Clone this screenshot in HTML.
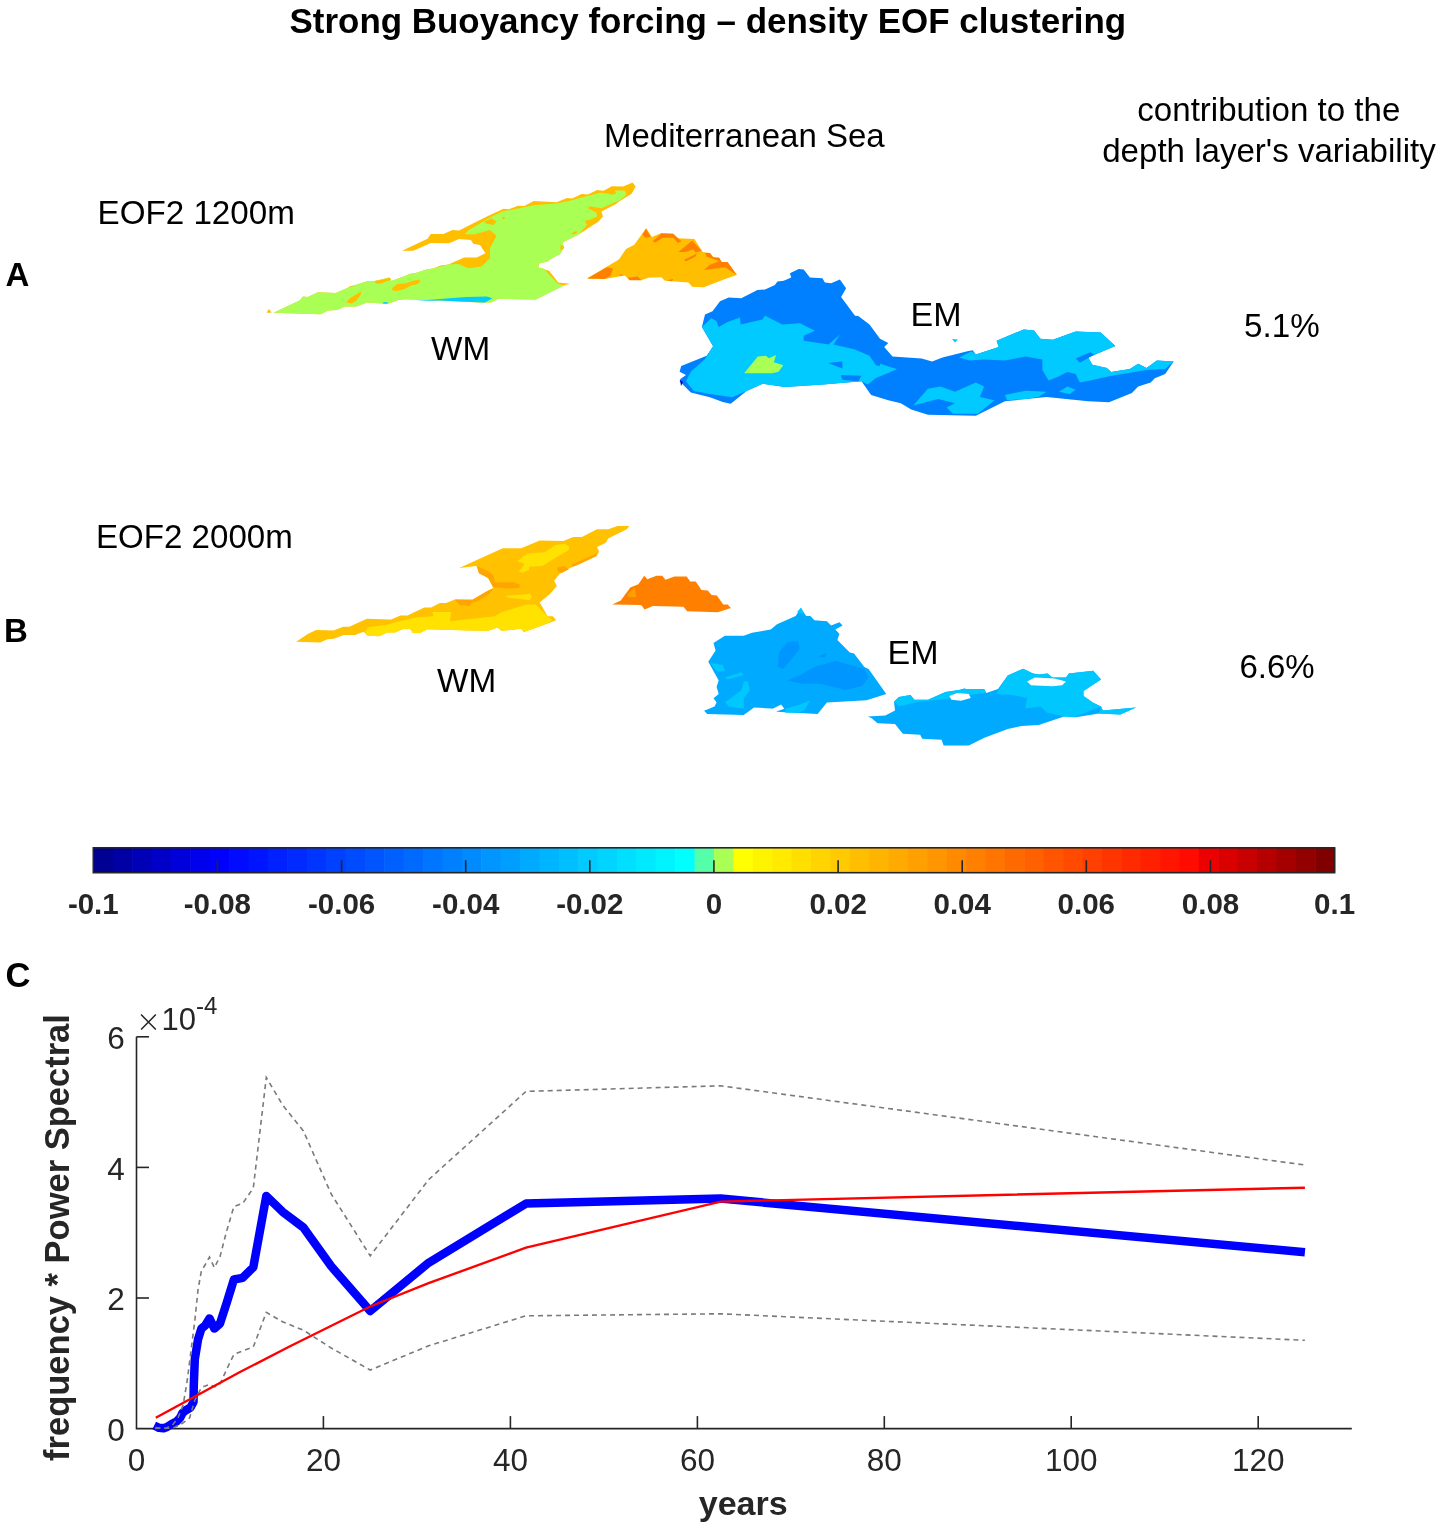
<!DOCTYPE html>
<html><head><meta charset="utf-8"><style>
html,body{margin:0;padding:0;background:#fff;}
svg{display:block;will-change:transform;}
text{font-family:"Liberation Sans",sans-serif;}
.cbl{font-size:29.5px;font-weight:bold;fill:#262626;}
</style></head><body>
<svg width="1441" height="1528" viewBox="0 0 1441 1528">
<rect width="1441" height="1528" fill="#fff"/>
<g shape-rendering="geometricPrecision">
<polygon points="273.7,312.8 300.0,300.2 302.9,296.6 307.7,297.0 318.0,292.2 335.9,293.1 349.5,287.1 355.4,285.1 368.0,281.0 374.8,281.0 389.4,277.5 391.3,281.0 405.0,275.9 410.0,273.7 415.0,273.3 426.6,269.5 434.1,268.3 440.4,265.4 448.3,264.5 464.1,257.5 476.6,257.5 485.4,253.3 480.0,245.0 473.3,243.7 470.8,240.0 459.1,239.1 449.1,243.3 430.8,242.9 413.3,250.8 402.1,250.8 427.5,238.7 430.8,234.1 443.3,234.1 452.5,230.0 459.1,230.4 478.3,220.8 490.0,215.1 503.5,208.8 508.7,209.3 518.1,205.7 524.3,206.0 533.7,201.0 556.6,202.3 567.0,197.9 572.2,198.4 581.6,194.0 587.8,194.6 597.2,190.1 603.5,190.8 611.8,186.2 623.2,186.5 632.6,182.5 635.7,186.5 631.6,193.7 626.4,196.9 619.1,201.5 616.0,204.1 601.4,211.4 602.9,216.6 598.3,221.8 589.9,227.0 583.7,231.2 579.1,234.2 562.4,242.5 564.1,247.5 560.0,254.1 550.8,259.1 547.5,261.6 539.1,263.3 538.3,267.5 549.1,270.8 558.3,282.5 569.9,283.7 563.3,285.8 535.8,299.5 498.3,298.7 490.8,302.4 480.0,302.4 460.0,301.5 440.0,300.5 405.0,299.2 399.1,299.7 390.3,303.1 383.5,303.6 367.0,302.6 356.3,306.5 344.7,306.5 336.9,309.9 328.1,310.4 320.4,314.3" fill="rgb(255,191,0)"/>
<polygon points="273.7,312.8 300.0,300.2 302.9,296.6 307.7,297.0 318.0,292.2 335.9,293.1 349.5,287.1 355.4,285.1 368.0,281.0 374.8,281.0 389.4,277.5 391.3,281.0 405.0,275.9 410.0,273.7 415.0,273.3 426.6,269.5 434.1,268.3 448.3,264.5 458.3,264.1 468.3,268.3 481.6,266.6 490.0,258.3 490.0,248.3 496.6,235.8 489.9,230.0 475.0,234.2 465.0,234.2 468.3,230.4 482.4,222.1 493.1,216.1 502.5,211.4 510.8,209.9 533.7,205.2 556.6,203.6 569.1,201.0 583.7,196.9 600.3,192.7 608.7,193.7 611.8,194.8 616.0,193.7 614.9,190.6 624.3,190.6 626.4,193.2 624.3,196.9 619.1,200.5 601.4,208.3 589.9,206.2 587.8,208.3 596.2,212.5 597.2,216.6 589.9,219.8 584.7,220.8 586.8,225.0 579.1,234.2 562.4,242.5 564.1,247.5 560.0,254.1 550.8,259.1 547.5,261.6 543.3,262.5 538.3,264.1 538.3,267.5 543.3,268.3 550.8,276.6 557.4,283.3 563.3,285.8 535.8,299.5 498.3,298.7 490.8,302.4 480.0,302.4 460.0,301.5 440.0,300.5 405.0,299.2 399.1,299.7 390.3,303.1 383.5,303.6 367.0,302.6 356.3,306.5 344.7,306.5 336.9,309.9 328.1,310.4 320.4,314.3" fill="rgb(170,255,85)"/>
<polygon points="484.1,221.7 491.6,218.3 496.6,221.7 493.3,225.0 486.6,223.7" fill="rgb(255,191,0)"/>
<polygon points="502.0,217.5 504.0,216.5 505.0,218.5 503.0,219.2" fill="rgb(255,191,0)"/>
<polygon points="571.6,233.3 576.6,230.8 577.0,233.3 572.4,234.6" fill="rgb(255,191,0)"/>
<polygon points="560.5,244.6 564.5,247.5 560.5,250.5" fill="rgb(255,191,0)"/>
<polygon points="346.1,302.6 350.5,297.7 361.2,291.4 360.7,294.8 356.3,300.7 351.5,303.6" fill="rgb(255,191,0)"/>
<polygon points="373.8,281.2 384.5,279.3 389.4,277.5 391.3,279.8 381.6,283.2 376.7,283.7" fill="rgb(255,191,0)"/>
<polygon points="348.6,287.1 354.4,285.1 352.4,286.6 349.5,287.5" fill="rgb(255,191,0)"/>
<polygon points="392.3,288.0 397.1,284.1 405.0,283.5 414.0,280.4 420.0,279.5 419.0,282.5 410.0,286.0 405.0,289.0 397.1,291.0 392.3,290.5" fill="rgb(255,191,0)"/>
<polygon points="410.8,282.5 419.2,280.4 420.0,282.5 415.0,285.0" fill="rgb(255,191,0)"/>
<polygon points="266.5,312.8 268.9,308.9 271.8,312.8" fill="rgb(255,191,0)"/>
<polygon points="382.6,302.6 386.4,302.1 389.4,303.6 383.5,303.8" fill="rgb(0,202,255)"/>
<polygon points="415.0,301.0 440.0,299.0 466.0,297.0 486.7,296.6 492.5,298.3 485.0,302.4 460.0,301.5 440.0,300.5" fill="rgb(0,202,255)"/>
<polygon points="587.1,278.4 607.1,266.6 618.9,259.5 626.0,248.9 634.3,244.8 646.1,228.3 652.0,237.1 661.4,233.0 673.2,233.6 677.9,238.3 694.4,238.9 702.7,251.9 709.8,253.0 713.3,257.2 719.2,257.8 721.6,261.9 727.5,261.9 736.9,274.9 725.1,279.0 703.9,287.2 692.1,286.7 688.5,282.5 664.9,280.8 661.4,277.2 648.4,277.8 641.3,280.2 627.2,277.8 624.8,275.5 604.8,279.0" fill="rgb(255,191,0)"/>
<polygon points="587.1,278.4 607.1,267.2 613.0,268.4 610.7,275.5 604.8,279.0" fill="rgb(255,128,0)"/>
<polygon points="642.5,234.2 646.1,228.8 650.8,237.1 644.9,237.7" fill="rgb(255,128,0)"/>
<polygon points="652.6,241.2 661.4,233.6 673.2,233.9 681.5,241.2 677.9,243.0 673.2,237.7 662.6,237.7 655.5,242.4" fill="rgb(255,128,0)"/>
<polygon points="678.5,251.9 692.1,240.6 701.5,250.7 695.6,252.4 693.3,249.5 685.0,251.9" fill="rgb(255,128,0)"/>
<polygon points="683.8,260.1 696.8,253.6 695.6,256.6 686.2,261.3" fill="rgb(255,128,0)"/>
<polygon points="705.1,253.0 709.8,253.0 713.3,257.2 719.2,257.8 721.6,261.9 727.5,261.9 736.9,274.9 732.2,271.9 725.1,267.2 703.9,270.1 709.8,264.8 719.2,261.3 713.3,258.9 706.2,256.6" fill="rgb(255,128,0)"/>
<polygon points="627.2,277.8 637.8,276.6 641.3,280.2 629.6,280.2" fill="rgb(255,128,0)"/>
<polygon points="618.9,274.3 623.7,274.9 621.3,276.0" fill="rgb(255,128,0)"/>
<polygon points="667.3,280.2 673.2,279.0 672.0,281.3" fill="rgb(255,128,0)"/>
<polygon points="679.6,381.3 680.4,378.9 686.0,374.9 679.6,371.7 681.2,366.1 706.7,355.8 713.1,346.2 701.9,327.0 705.0,314.5 712.5,311.3 720.0,301.3 728.7,297.6 741.2,298.2 757.4,290.1 765.0,289.5 774.9,285.1 777.4,281.4 783.7,280.7 791.2,277.6 789.9,273.2 798.7,268.9 803.7,269.5 809.9,277.6 822.4,278.2 824.9,282.6 831.1,283.2 839.9,279.5 846.1,288.2 841.1,297.0 855.0,315.7 858.3,315.9 869.5,324.6 880.0,338.7 888.3,342.9 884.2,347.1 892.5,356.4 921.6,358.5 932.1,361.6 942.5,357.5 967.4,351.2 972.7,350.2 975.8,354.4 998.7,347.1 996.6,340.8 1023.7,329.4 1034.1,330.4 1040.3,338.7 1052.8,339.8 1075.7,331.5 1100.7,332.5 1115.3,346.0 1088.2,357.5 1092.4,364.8 1106.9,367.9 1111.1,372.0 1129.8,368.9 1138.2,363.7 1146.5,367.9 1156.9,360.6 1173.6,361.6 1165.2,374.1 1154.8,378.3 1150.7,382.5 1138.2,386.6 1131.9,392.9 1109.0,402.2 1088.2,401.2 1046.6,397.0 1004.9,401.2 975.8,415.8 927.9,414.7 911.2,409.5 900.8,403.3 888.3,400.2 871.1,394.9 861.5,381.3 823.2,384.5 784.9,386.9 762.6,383.7 746.6,390.9 730.7,403.7 722.7,402.1 709.9,397.3 690.8,392.5" fill="rgb(0,128,255)"/>
<polygon points="701.9,327.0 711.2,318.2 716.2,320.7 718.7,327.0 727.5,322.0 740.0,317.6 740.6,324.5 762.4,319.5 765.0,315.7 782.4,324.5 799.9,323.2 814.9,330.7 803.7,335.7 803.7,340.7 828.6,344.4 839.9,334.4 833.6,344.4 855.0,349.4 869.5,355.8 875.9,365.3 896.7,369.3 875.9,378.1 867.9,384.5 861.5,381.3 823.2,384.5 784.9,386.9 762.6,383.7 746.6,390.9 732.2,397.3 709.9,394.1 693.9,390.9 686.0,381.3 690.8,371.7 705.1,359.0 713.1,346.2" fill="rgb(0,202,255)"/>
<polygon points="828.0,363.0 842.4,361.4 842.4,368.5" fill="rgb(0,128,255)"/>
<polygon points="840.8,374.9 861.5,375.7 858.3,381.3 842.4,379.7" fill="rgb(0,128,255)"/>
<polygon points="744.2,373.3 757.8,356.6 765.8,355.8 769.0,358.2 776.1,355.0 773.8,362.2 783.3,365.3 778.5,371.7 772.2,373.3" fill="rgb(170,255,85)"/>
<polygon points="680.0,380.0 683.0,382.0 681.0,386.0" fill="rgb(0,0,200)"/>
<polygon points="959.1,357.5 971.6,351.2 975.8,354.4 998.7,347.1 996.6,340.8 1023.7,329.4 1034.1,330.4 1040.3,338.7 1052.8,339.8 1075.7,331.5 1100.7,332.5 1115.3,346.0 1088.2,357.5 1092.4,364.8 1106.9,367.9 1111.1,372.0 1129.8,368.9 1138.2,363.7 1146.5,367.9 1156.9,360.6 1173.6,361.6 1165.2,368.9 1146.5,370.0 1109.0,376.2 1090.3,380.4 1079.9,382.5 1075.7,374.1 1067.4,372.0 1059.1,376.2 1048.6,380.4 1042.4,370.0 1042.4,359.6 1025.7,356.4 1004.9,360.6 984.1,359.6 969.5,360.6" fill="rgb(0,202,255)"/>
<polygon points="1075.7,358.5 1090.3,352.3 1094.4,354.4 1079.9,362.7" fill="rgb(0,128,255)"/>
<polygon points="913.3,405.4 927.9,388.7 940.4,386.6 955.0,391.8 975.8,382.5 984.1,386.6 979.9,397.0 994.5,400.2 977.9,413.7 952.9,413.7 946.6,407.4 955.0,403.3 938.3,399.1 921.6,403.3" fill="rgb(0,202,255)"/>
<polygon points="1004.9,395.0 1025.7,390.8 1046.6,391.8 1038.2,397.0 1025.7,399.1 1007.0,400.2" fill="rgb(0,202,255)"/>
<polygon points="1059.1,391.8 1067.4,386.6 1075.7,389.7 1069.5,393.9" fill="rgb(0,202,255)"/>
<polygon points="880.0,363.7 896.7,368.9 880.0,376.2" fill="rgb(0,202,255)"/>
<polygon points="952.0,339.0 958.0,339.5 955.0,342.5" fill="rgb(0,202,255)"/>
<polygon points="296.2,641.8 308.1,633.7 316.2,630.0 333.7,630.6 343.1,626.8 349.3,626.8 366.8,618.7 391.2,619.4 400.5,615.6 407.4,615.6 424.3,607.5 431.1,607.5 439.9,603.1 446.1,603.1 454.9,599.4 472.4,599.8 486.9,591.2 493.5,587.9 488.2,578.0 479.0,572.7 476.4,566.1 459.2,568.1 502.7,548.3 521.2,548.3 539.7,540.4 563.4,541.1 573.3,537.1 581.9,537.1 597.0,529.2 608.2,529.2 617.5,525.9 629.3,525.9 626.7,529.2 608.2,538.5 605.6,543.1 597.0,547.0 599.0,551.6 595.0,555.6 576.6,564.8 568.7,568.8 559.4,574.1 554.2,580.7 556.8,585.9 550.2,593.8 539.7,602.4 547.6,616.3 552.8,616.3 556.1,620.2 542.3,625.5 523.8,632.1 521.2,628.8 501.4,630.8 497.5,627.5 488.2,630.8 470.0,630.6 427.4,629.3 419.9,633.1 413.0,633.1 409.9,628.7 403.7,628.7 394.9,632.5 387.4,632.5 378.7,636.2 367.4,635.6 363.7,631.8 355.0,635.0 343.7,635.0 333.7,638.7 327.5,639.3 320.0,642.5" fill="rgb(255,193,0)"/>
<polygon points="367.4,627.5 376.2,626.2 384.9,625.0 414.9,617.5 433.6,616.2 432.4,611.9 451.1,611.9 449.9,621.2 494.8,616.3 501.4,612.3 526.5,604.4 535.7,604.4 547.6,616.3 552.8,620.2 542.3,625.5 523.8,632.1 521.2,628.8 501.4,630.8 497.5,627.5 488.2,630.8 470.0,630.6 427.4,629.3 419.9,633.1 413.0,633.1 409.9,628.7 403.7,628.7 394.9,632.5 387.4,632.5 378.7,636.2 367.4,635.6 365.0,632.0" fill="rgb(255,226,0)"/>
<polygon points="517.2,560.9 527.8,553.6 544.9,552.3 555.5,545.1 564.7,543.7 569.3,546.4 568.7,550.3 556.8,556.9 542.3,566.1 529.1,566.8 529.1,570.1 522.5,572.7 518.6,571.4 523.8,565.5 523.8,563.5" fill="rgb(255,226,0)"/>
<polygon points="505.4,595.8 513.3,595.2 523.8,594.5 530.4,593.8 531.7,597.8 529.1,600.4 521.2,599.1 508.0,597.8" fill="rgb(255,226,0)"/>
<polygon points="493.5,582.6 513.3,582.2 519.9,584.6 519.2,587.9 509.3,588.6 493.5,587.2" fill="rgb(255,165,0)"/>
<polygon points="477.0,566.1 489.6,572.1 493.5,575.4 494.8,582.0 493.5,587.9 488.2,578.0 479.0,573.4" fill="rgb(255,165,0)"/>
<polygon points="455.3,600.4 472.4,599.8 486.9,591.2 493.5,587.9 489.6,593.8 476.4,601.7 460.5,605.7" fill="rgb(255,165,0)"/>
<polygon points="556.8,567.5 564.7,566.1 568.7,569.4 562.1,572.7 558.1,572.1" fill="rgb(255,165,0)"/>
<polygon points="571.3,564.8 595.0,554.3 599.0,551.6 596.4,556.3 576.6,565.5 572.6,566.8" fill="rgb(255,165,0)"/>
<polygon points="454.9,599.4 472.4,599.8 470.0,606.2 459.9,605.0" fill="rgb(255,165,0)"/>
<polygon points="612.2,604.5 620.8,600.5 630.3,587.4 638.4,584.2 644.2,575.7 647.4,579.3 656.4,575.7 662.3,575.7 665.4,579.7 674.5,576.6 686.6,576.6 690.3,581.5 695.7,581.5 701.5,590.1 707.8,590.6 711.5,595.1 716.9,595.5 723.2,604.5 727.7,604.5 730.9,608.1 717.8,612.2 687.1,611.3 683.5,606.8 652.8,605.9 644.7,609.5 641.1,605.0" fill="rgb(255,128,0)"/>
<polygon points="627.6,594.2 634.8,587.4 636.1,596.9 628.5,596.9" fill="rgb(255,160,0)"/>
<polygon points="704.1,710.7 707.2,713.9 743.7,714.9 754.1,707.6 774.9,708.7 777.0,711.8 817.6,713.9 826.9,702.4 866.5,700.3 886.3,694.1 868.6,669.1 864.4,667.0 854.0,653.5 849.8,652.4 837.4,640.0 839.4,633.7 835.3,629.5 842.6,625.4 839.4,622.3 831.1,625.4 826.9,621.2 814.4,620.2 810.3,616.0 806.1,616.0 800.9,607.7 795.7,616.0 777.0,624.3 770.7,629.5 752.0,632.7 743.7,635.8 724.9,635.8 713.5,643.1 715.6,650.4 708.3,661.8 718.7,680.6 716.6,686.8 718.7,694.1 713.5,698.2 716.6,702.4 714.5,706.6" fill="rgb(0,170,255)"/>
<polygon points="779.0,652.4 787.4,642.0 797.8,641.0 799.9,648.3 793.6,656.6 783.2,669.1 778.0,667.0" fill="rgb(0,150,255)"/>
<polygon points="787.4,680.6 799.9,675.3 814.4,667.0 835.3,660.8 864.4,669.1 868.6,677.4 862.3,685.8 845.7,689.9 820.7,683.7 802.0,683.7" fill="rgb(0,150,255)"/>
<polygon points="818.6,656.6 826.9,652.4 824.9,657.6" fill="rgb(0,150,255)"/>
<polygon points="710.3,662.9 722.8,664.9 724.9,671.2 716.6,671.2" fill="rgb(0,200,255)"/>
<polygon points="724.9,677.4 741.6,672.2 743.7,675.3 727.0,679.5" fill="rgb(0,200,255)"/>
<polygon points="724.9,702.4 733.2,696.2 741.6,689.9 743.7,681.6 747.8,681.6 749.9,689.9 743.7,698.2 743.7,708.7 729.1,706.6" fill="rgb(0,200,255)"/>
<polygon points="785.3,708.7 799.9,704.5 810.3,700.3 804.1,710.7 797.8,712.8 785.3,712.8" fill="rgb(0,200,255)"/>
<polygon points="797.0,612.0 800.9,607.7 804.0,614.0" fill="rgb(0,200,255)"/>
<polygon points="772.8,708.7 781.1,704.5 784.3,708.7 775.9,711.8" fill="#fff"/>
<polygon points="867.8,716.4 885.3,715.4 895.0,710.5 894.0,701.8 898.9,696.9 910.5,695.0 914.4,699.8 928.0,699.8 945.5,692.1 959.1,690.1 964.9,688.2 967.9,692.1 968.8,694.0 976.6,691.1 983.4,689.1 986.3,693.0 998.0,689.1 1007.7,675.5 1023.2,668.7 1033.0,673.6 1038.8,674.6 1047.5,673.6 1052.4,677.5 1066.0,677.5 1068.9,673.6 1093.2,670.7 1101.0,679.4 1083.5,691.1 1083.5,696.0 1093.2,702.8 1101.0,706.6 1102.9,710.5 1136.0,707.6 1120.4,714.4 1099.0,713.4 1075.7,717.3 1064.0,716.4 1038.8,725.1 1021.3,726.1 1007.7,729.0 984.4,737.7 968.8,745.5 943.6,745.5 941.6,739.7 922.2,738.7 920.2,734.8 902.8,733.8 895.0,724.1 877.5,723.2 871.7,718.3" fill="rgb(0,170,255)"/>
<polygon points="996.0,694.0 1007.7,675.5 1023.2,668.7 1033.0,673.6 1038.8,674.6 1047.5,673.6 1052.4,677.5 1066.0,677.5 1068.9,673.6 1093.2,670.7 1101.0,679.4 1083.5,691.1 1083.5,696.0 1093.2,702.8 1101.0,706.6 1073.8,717.3 1064.0,716.4 1046.6,712.5 1040.7,706.6 1025.2,708.6 1027.1,697.9 1011.6,695.0" fill="rgb(0,200,255)"/>
<polygon points="1101.0,706.6 1102.9,710.5 1136.0,707.6 1120.4,714.4 1099.0,713.4" fill="rgb(0,200,255)"/>
<polygon points="894.0,701.8 898.9,696.9 910.5,695.0 914.4,699.8 928.0,699.8 945.5,692.1 964.9,689.1 984.4,689.1 986.3,693.0 968.8,695.0 947.4,698.9 918.3,701.8 898.9,706.6" fill="rgb(0,200,255)"/>
<polygon points="949.4,696.0 957.2,693.0 968.8,694.0 970.8,697.9 961.0,700.8 951.3,699.8" fill="#fff"/>
<polygon points="1027.1,681.4 1034.9,677.5 1054.3,678.5 1066.0,681.4 1062.1,685.3 1052.4,686.2 1031.0,685.3" fill="#fff"/>
</g>
<rect x="93.30" y="847.8" width="20.00" height="24.90000000000009" fill="rgb(0,0,146)"/>
<rect x="112.70" y="847.8" width="20.00" height="24.90000000000009" fill="rgb(0,0,164)"/>
<rect x="132.09" y="847.8" width="20.00" height="24.90000000000009" fill="rgb(0,0,182)"/>
<rect x="151.49" y="847.8" width="20.00" height="24.90000000000009" fill="rgb(0,0,200)"/>
<rect x="170.88" y="847.8" width="20.00" height="24.90000000000009" fill="rgb(0,0,219)"/>
<rect x="190.28" y="847.8" width="20.00" height="24.90000000000009" fill="rgb(0,0,237)"/>
<rect x="209.67" y="847.8" width="20.00" height="24.90000000000009" fill="rgb(0,0,255)"/>
<rect x="229.07" y="847.8" width="20.00" height="24.90000000000009" fill="rgb(0,11,255)"/>
<rect x="248.46" y="847.8" width="20.00" height="24.90000000000009" fill="rgb(0,21,255)"/>
<rect x="267.86" y="847.8" width="20.00" height="24.90000000000009" fill="rgb(0,32,255)"/>
<rect x="287.25" y="847.8" width="20.00" height="24.90000000000009" fill="rgb(0,42,255)"/>
<rect x="306.65" y="847.8" width="20.00" height="24.90000000000009" fill="rgb(0,53,255)"/>
<rect x="326.04" y="847.8" width="20.00" height="24.90000000000009" fill="rgb(0,64,255)"/>
<rect x="345.44" y="847.8" width="20.00" height="24.90000000000009" fill="rgb(0,74,255)"/>
<rect x="364.83" y="847.8" width="20.00" height="24.90000000000009" fill="rgb(0,85,255)"/>
<rect x="384.23" y="847.8" width="20.00" height="24.90000000000009" fill="rgb(0,96,255)"/>
<rect x="403.62" y="847.8" width="20.00" height="24.90000000000009" fill="rgb(0,106,255)"/>
<rect x="423.02" y="847.8" width="20.00" height="24.90000000000009" fill="rgb(0,117,255)"/>
<rect x="442.42" y="847.8" width="20.00" height="24.90000000000009" fill="rgb(0,128,255)"/>
<rect x="461.81" y="847.8" width="20.00" height="24.90000000000009" fill="rgb(0,138,255)"/>
<rect x="481.21" y="847.8" width="20.00" height="24.90000000000009" fill="rgb(0,149,255)"/>
<rect x="500.60" y="847.8" width="20.00" height="24.90000000000009" fill="rgb(0,159,255)"/>
<rect x="520.00" y="847.8" width="20.00" height="24.90000000000009" fill="rgb(0,170,255)"/>
<rect x="539.39" y="847.8" width="20.00" height="24.90000000000009" fill="rgb(0,181,255)"/>
<rect x="558.79" y="847.8" width="20.00" height="24.90000000000009" fill="rgb(0,191,255)"/>
<rect x="578.18" y="847.8" width="20.00" height="24.90000000000009" fill="rgb(0,202,255)"/>
<rect x="597.58" y="847.8" width="20.00" height="24.90000000000009" fill="rgb(0,212,255)"/>
<rect x="616.97" y="847.8" width="20.00" height="24.90000000000009" fill="rgb(0,223,255)"/>
<rect x="636.37" y="847.8" width="20.00" height="24.90000000000009" fill="rgb(0,234,255)"/>
<rect x="655.76" y="847.8" width="20.00" height="24.90000000000009" fill="rgb(0,244,255)"/>
<rect x="675.16" y="847.8" width="20.00" height="24.90000000000009" fill="rgb(0,255,255)"/>
<rect x="694.55" y="847.8" width="20.00" height="24.90000000000009" fill="rgb(85,255,170)"/>
<rect x="713.95" y="847.8" width="20.00" height="24.90000000000009" fill="rgb(170,255,85)"/>
<rect x="733.35" y="847.8" width="20.00" height="24.90000000000009" fill="rgb(255,255,0)"/>
<rect x="752.74" y="847.8" width="20.00" height="24.90000000000009" fill="rgb(255,244,0)"/>
<rect x="772.14" y="847.8" width="20.00" height="24.90000000000009" fill="rgb(255,234,0)"/>
<rect x="791.53" y="847.8" width="20.00" height="24.90000000000009" fill="rgb(255,223,0)"/>
<rect x="810.93" y="847.8" width="20.00" height="24.90000000000009" fill="rgb(255,212,0)"/>
<rect x="830.32" y="847.8" width="20.00" height="24.90000000000009" fill="rgb(255,202,0)"/>
<rect x="849.72" y="847.8" width="20.00" height="24.90000000000009" fill="rgb(255,191,0)"/>
<rect x="869.11" y="847.8" width="20.00" height="24.90000000000009" fill="rgb(255,181,0)"/>
<rect x="888.51" y="847.8" width="20.00" height="24.90000000000009" fill="rgb(255,170,0)"/>
<rect x="907.90" y="847.8" width="20.00" height="24.90000000000009" fill="rgb(255,159,0)"/>
<rect x="927.30" y="847.8" width="20.00" height="24.90000000000009" fill="rgb(255,149,0)"/>
<rect x="946.69" y="847.8" width="20.00" height="24.90000000000009" fill="rgb(255,138,0)"/>
<rect x="966.09" y="847.8" width="20.00" height="24.90000000000009" fill="rgb(255,128,0)"/>
<rect x="985.48" y="847.8" width="20.00" height="24.90000000000009" fill="rgb(255,117,0)"/>
<rect x="1004.88" y="847.8" width="20.00" height="24.90000000000009" fill="rgb(255,106,0)"/>
<rect x="1024.27" y="847.8" width="20.00" height="24.90000000000009" fill="rgb(255,96,0)"/>
<rect x="1043.67" y="847.8" width="20.00" height="24.90000000000009" fill="rgb(255,85,0)"/>
<rect x="1063.07" y="847.8" width="20.00" height="24.90000000000009" fill="rgb(255,74,0)"/>
<rect x="1082.46" y="847.8" width="20.00" height="24.90000000000009" fill="rgb(255,64,0)"/>
<rect x="1101.86" y="847.8" width="20.00" height="24.90000000000009" fill="rgb(255,53,0)"/>
<rect x="1121.25" y="847.8" width="20.00" height="24.90000000000009" fill="rgb(255,42,0)"/>
<rect x="1140.65" y="847.8" width="20.00" height="24.90000000000009" fill="rgb(255,32,0)"/>
<rect x="1160.04" y="847.8" width="20.00" height="24.90000000000009" fill="rgb(255,21,0)"/>
<rect x="1179.44" y="847.8" width="20.00" height="24.90000000000009" fill="rgb(255,11,0)"/>
<rect x="1198.83" y="847.8" width="20.00" height="24.90000000000009" fill="rgb(237,0,0)"/>
<rect x="1218.23" y="847.8" width="20.00" height="24.90000000000009" fill="rgb(219,0,0)"/>
<rect x="1237.62" y="847.8" width="20.00" height="24.90000000000009" fill="rgb(200,0,0)"/>
<rect x="1257.02" y="847.8" width="20.00" height="24.90000000000009" fill="rgb(182,0,0)"/>
<rect x="1276.41" y="847.8" width="20.00" height="24.90000000000009" fill="rgb(164,0,0)"/>
<rect x="1295.81" y="847.8" width="20.00" height="24.90000000000009" fill="rgb(146,0,0)"/>
<rect x="1315.20" y="847.8" width="20.00" height="24.90000000000009" fill="rgb(128,0,0)"/>
<rect x="93.3" y="847.8" width="1241.3" height="24.9" fill="none" stroke="#262626" stroke-width="1.6"/>
<line x1="217.4" y1="860.2" x2="217.4" y2="872.7" stroke="#262626" stroke-width="1.6"/>
<line x1="341.6" y1="860.2" x2="341.6" y2="872.7" stroke="#262626" stroke-width="1.6"/>
<line x1="465.7" y1="860.2" x2="465.7" y2="872.7" stroke="#262626" stroke-width="1.6"/>
<line x1="589.8" y1="860.2" x2="589.8" y2="872.7" stroke="#262626" stroke-width="1.6"/>
<line x1="713.9" y1="860.2" x2="713.9" y2="872.7" stroke="#262626" stroke-width="1.6"/>
<line x1="838.1" y1="860.2" x2="838.1" y2="872.7" stroke="#262626" stroke-width="1.6"/>
<line x1="962.2" y1="860.2" x2="962.2" y2="872.7" stroke="#262626" stroke-width="1.6"/>
<line x1="1086.3" y1="860.2" x2="1086.3" y2="872.7" stroke="#262626" stroke-width="1.6"/>
<line x1="1210.5" y1="860.2" x2="1210.5" y2="872.7" stroke="#262626" stroke-width="1.6"/>
<text x="93.3" y="914.4" class="cbl" text-anchor="middle">-0.1</text>
<text x="217.4" y="914.4" class="cbl" text-anchor="middle">-0.08</text>
<text x="341.6" y="914.4" class="cbl" text-anchor="middle">-0.06</text>
<text x="465.7" y="914.4" class="cbl" text-anchor="middle">-0.04</text>
<text x="589.8" y="914.4" class="cbl" text-anchor="middle">-0.02</text>
<text x="713.9" y="914.4" class="cbl" text-anchor="middle">0</text>
<text x="838.1" y="914.4" class="cbl" text-anchor="middle">0.02</text>
<text x="962.2" y="914.4" class="cbl" text-anchor="middle">0.04</text>
<text x="1086.3" y="914.4" class="cbl" text-anchor="middle">0.06</text>
<text x="1210.5" y="914.4" class="cbl" text-anchor="middle">0.08</text>
<text x="1334.6" y="914.4" class="cbl" text-anchor="middle">0.1</text>
<path d="M136.5,1036.8 V1428.6 H1351.8" fill="none" stroke="#262626" stroke-width="1.6"/>
<line x1="323.4" y1="1416.1" x2="323.4" y2="1428.6" stroke="#262626" stroke-width="1.6"/>
<line x1="510.4" y1="1416.1" x2="510.4" y2="1428.6" stroke="#262626" stroke-width="1.6"/>
<line x1="697.4" y1="1416.1" x2="697.4" y2="1428.6" stroke="#262626" stroke-width="1.6"/>
<line x1="884.3" y1="1416.1" x2="884.3" y2="1428.6" stroke="#262626" stroke-width="1.6"/>
<line x1="1071.2" y1="1416.1" x2="1071.2" y2="1428.6" stroke="#262626" stroke-width="1.6"/>
<line x1="1258.2" y1="1416.1" x2="1258.2" y2="1428.6" stroke="#262626" stroke-width="1.6"/>
<line x1="136.5" y1="1298.0" x2="149.0" y2="1298.0" stroke="#262626" stroke-width="1.6"/>
<line x1="136.5" y1="1167.4" x2="149.0" y2="1167.4" stroke="#262626" stroke-width="1.6"/>
<line x1="136.5" y1="1036.8" x2="149.0" y2="1036.8" stroke="#262626" stroke-width="1.6"/>
<polyline points="1304.9,1252.3 720.7,1198.6 526.0,1203.6 428.6,1262.8 370.2,1311.0 331.2,1266.3 303.4,1227.5 282.6,1211.8 266.3,1196.0 253.3,1267.2 242.7,1277.8 233.9,1279.5 226.4,1303.7 220.0,1323.5 214.4,1328.6 209.5,1318.4 205.2,1325.5 201.4,1328.6 198.0,1339.6 194.8,1359.3 193.8,1385.0 193.5,1402.0 190.5,1407.5 185.5,1410.5 182.5,1413.0 180.0,1418.0 176.5,1421.5 171.6,1424.0 167.0,1427.0 163.7,1428.3 159.0,1427.8 154.2,1425.5" fill="none" stroke="#0000ff" stroke-width="8.5" stroke-linejoin="round"/>
<polyline points="155.3,1427.6 165.7,1428.4 173.0,1424.5 178.2,1417.4 183.2,1404.8 187.3,1380.0 192.1,1342.0 194.9,1320.0 198.0,1290.0 201.4,1270.7 205.2,1264.8 209.5,1257.1 214.4,1267.7 220.0,1256.6 226.4,1232.0 233.9,1206.5 242.7,1203.5 253.3,1188.0 266.3,1077.5 282.6,1105.0 303.4,1131.0 331.2,1194.0 370.2,1255.8 428.6,1179.7 526.0,1091.4 720.7,1085.8 1304.9,1165.0" fill="none" stroke="#7a7a7a" stroke-width="1.6" stroke-dasharray="5 4"/>
<polyline points="155.3,1428.4 173.0,1428.0 181.4,1424.0 189.6,1418.0 194.9,1400.0 201.4,1387.6 205.2,1386.0 209.5,1384.4 214.4,1386.8 220.0,1384.0 226.4,1370.0 233.9,1354.4 242.7,1351.0 253.3,1347.0 266.3,1312.4 282.6,1321.8 303.4,1330.2 331.2,1348.0 370.2,1370.0 428.6,1345.8 526.0,1315.8 720.7,1313.8 1304.9,1340.3" fill="none" stroke="#7a7a7a" stroke-width="1.6" stroke-dasharray="5 4"/>
<polyline points="155.8,1417.7 240.0,1372.0 290.0,1346.2 370.2,1306.5 428.6,1283.2 526.0,1247.6 720.7,1201.6 1304.9,1187.7" fill="none" stroke="#ff0000" stroke-width="2.4"/>
<text x="289.5" y="32.5" font-size="34.95" font-weight="bold" text-anchor="start" fill="#000" >Strong Buoyancy forcing – density EOF clustering</text>
<text x="604" y="146.6" font-size="33" font-weight="normal" text-anchor="start" fill="#000" >Mediterranean Sea</text>
<text x="1268.8" y="121" font-size="33.1" font-weight="normal" text-anchor="middle" fill="#000" >contribution to the</text>
<text x="1269" y="162.3" font-size="33.1" font-weight="normal" text-anchor="middle" fill="#000" >depth layer's variability</text>
<text x="97.5" y="224.4" font-size="33.2" font-weight="normal" text-anchor="start" fill="#000" >EOF2 1200m</text>
<text x="5.5" y="286.1" font-size="33" font-weight="bold" text-anchor="start" fill="#000" >A</text>
<text x="431" y="359.7" font-size="33.3" font-weight="normal" text-anchor="start" fill="#000" >WM</text>
<text x="910.5" y="325.7" font-size="34" font-weight="normal" text-anchor="start" fill="#000" >EM</text>
<text x="1244" y="336.5" font-size="33.2" font-weight="normal" text-anchor="start" fill="#000" >5.1%</text>
<text x="96" y="547.6" font-size="33.1" font-weight="normal" text-anchor="start" fill="#000" >EOF2 2000m</text>
<text x="4" y="641.7" font-size="33" font-weight="bold" text-anchor="start" fill="#000" >B</text>
<text x="437" y="691.8" font-size="33.3" font-weight="normal" text-anchor="start" fill="#000" >WM</text>
<text x="887.5" y="664" font-size="34" font-weight="normal" text-anchor="start" fill="#000" >EM</text>
<text x="1239.5" y="677.5" font-size="33" font-weight="normal" text-anchor="start" fill="#000" >6.6%</text>
<text x="5.5" y="986.7" font-size="34.5" font-weight="bold" text-anchor="start" fill="#000" >C</text>
<text x="124.8" y="1440.9" font-size="31.5" font-weight="normal" text-anchor="end" fill="#262626" >0</text>
<text x="124.8" y="1310.3" font-size="31.5" font-weight="normal" text-anchor="end" fill="#262626" >2</text>
<text x="124.8" y="1179.7" font-size="31.5" font-weight="normal" text-anchor="end" fill="#262626" >4</text>
<text x="124.8" y="1049.3" font-size="31.5" font-weight="normal" text-anchor="end" fill="#262626" >6</text>
<text x="136.5" y="1470.8" font-size="31.5" font-weight="normal" text-anchor="middle" fill="#262626" >0</text>
<text x="323.4" y="1470.8" font-size="31.5" font-weight="normal" text-anchor="middle" fill="#262626" >20</text>
<text x="510.4" y="1470.8" font-size="31.5" font-weight="normal" text-anchor="middle" fill="#262626" >40</text>
<text x="697.4" y="1470.8" font-size="31.5" font-weight="normal" text-anchor="middle" fill="#262626" >60</text>
<text x="884.3" y="1470.8" font-size="31.5" font-weight="normal" text-anchor="middle" fill="#262626" >80</text>
<text x="1071.2" y="1470.8" font-size="31.5" font-weight="normal" text-anchor="middle" fill="#262626" >100</text>
<text x="1258.2" y="1470.8" font-size="31.5" font-weight="normal" text-anchor="middle" fill="#262626" >120</text>
<path d="M141.1,1014.6 L155.8,1029.6 M155.8,1014.6 L141.1,1029.6" stroke="#262626" stroke-width="1.5" fill="none"/>
<text x="161.5" y="1029.9" font-size="31" font-weight="normal" text-anchor="start" fill="#262626" >10</text>
<text x="196" y="1013.9" font-size="24" font-weight="normal" text-anchor="start" fill="#262626" >-4</text>
<text x="743.2" y="1515.3" font-size="34" font-weight="bold" text-anchor="middle" fill="#262626" >years</text>
<text x="0" y="0" font-size="34.5" font-weight="bold" text-anchor="middle" fill="#262626" transform="translate(68.5,1237.5) rotate(-90)">frequency * Power Spectral</text>
</svg>
</body></html>
